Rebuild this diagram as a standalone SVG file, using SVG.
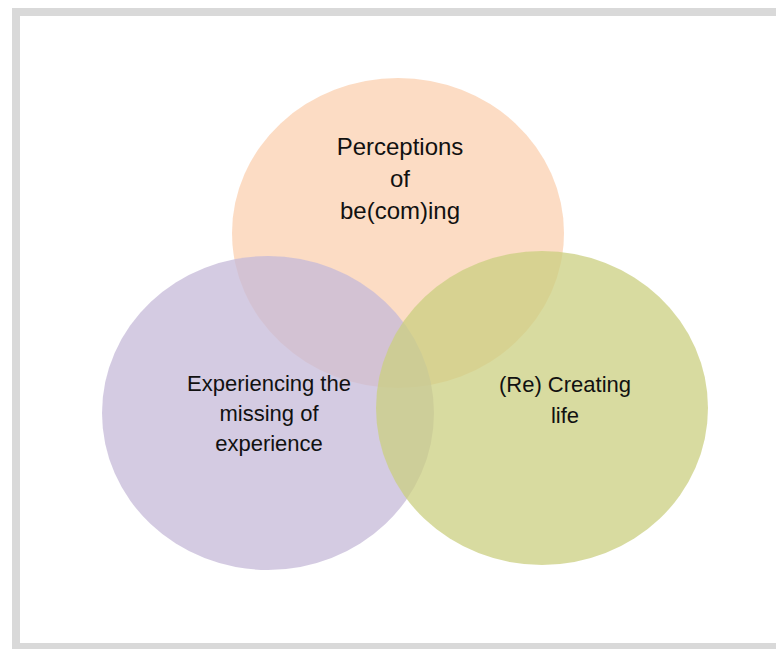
<svg xmlns="http://www.w3.org/2000/svg" width="776" height="649" viewBox="0 0 776 649">
<style>
.frame{fill:#ffffff;stroke:#d9d9d9;stroke-width:8}
.c{fill-opacity:0.75}
.t{font-family:"Liberation Sans",Arial,sans-serif;fill:#111111;text-anchor:middle}
.big{font-size:24px}
.sm{font-size:22px}
</style>
<rect class="frame" x="16" y="12" width="800" height="635"/>
<g id="node-perceptions">
<ellipse class="c" cx="398" cy="233" rx="166" ry="155" fill="#FBD0B0"/>
<text class="t big" x="400" y="155">Perceptions</text>
<text class="t big" x="400" y="187">of</text>
<text class="t big" x="400" y="219">be(com)ing</text>
</g>
<g id="node-experiencing">
<ellipse class="c" cx="268" cy="413" rx="166" ry="157" fill="#C5BAD8"/>
<text class="t sm" x="269" y="391">Experiencing the</text>
<text class="t sm" x="269" y="421">missing of</text>
<text class="t sm" x="269" y="451">experience</text>
</g>
<g id="node-recreating">
<ellipse class="c" cx="542" cy="408" rx="166" ry="157" fill="#CBCF80"/>
<text class="t sm" x="565" y="392">(Re) Creating</text>
<text class="t sm" x="565" y="423">life</text>
</g>
<g id="connectors"></g>
</svg>
